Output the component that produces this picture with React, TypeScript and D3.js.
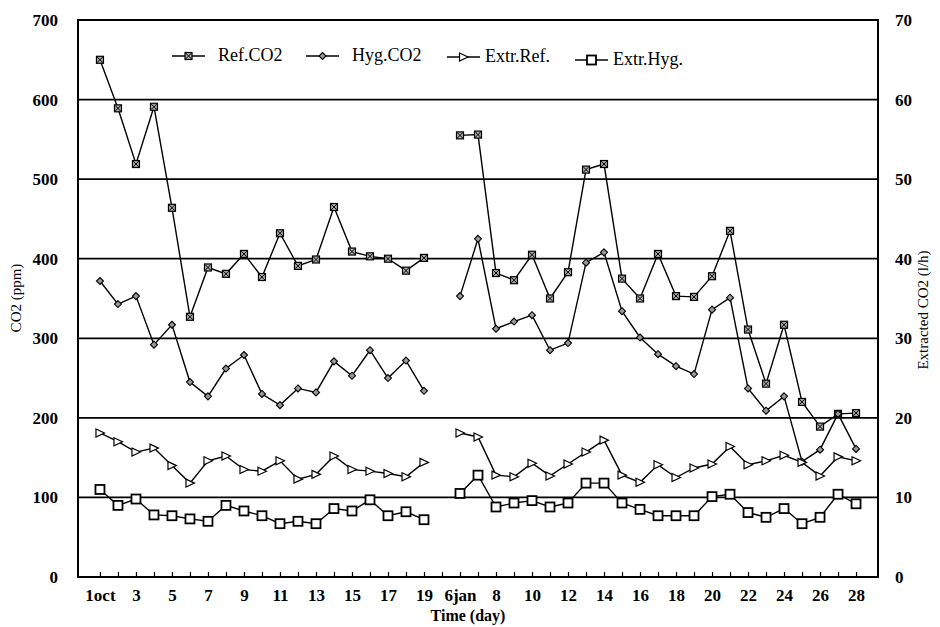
import React, { useRef, useEffect } from "react";
import * as d3 from "d3";

// categories: 1-19 Oct, one empty slot, 6-28 Jan
const categories = [
  "o1", "o2", "o3", "o4", "o5", "o6", "o7", "o8", "o9", "o10",
  "o11", "o12", "o13", "o14", "o15", "o16", "o17", "o18", "o19",
  "gap",
  "j6", "j7", "j8", "j9", "j10", "j11", "j12", "j13", "j14", "j15",
  "j16", "j17", "j18", "j19", "j20", "j21", "j22", "j23", "j24", "j25",
  "j26", "j27", "j28",
];
const tickLabels = [
  "1oct", "", "3", "", "5", "", "7", "", "9", "", "11", "", "13", "", "15", "", "17", "", "19",
  "",
  "6jan", "", "8", "", "10", "", "12", "", "14", "", "16", "", "18", "", "20", "", "22", "", "24", "", "26", "", "28",
];

// ppm (left axis)
const refCO2 = [
  650, 589, 519, 591, 464, 327, 389, 381, 406, 377, 432, 391, 399, 465, 409, 403, 400, 385, 401,
  null,
  555, 556, 382, 373, 405, 350, 383, 512, 519, 375, 350, 406, 353, 352, 378, 435, 311, 243, 317, 220, 189, 205, 206,
];
const hygCO2 = [
  372, 343, 353, 292, 317, 245, 227, 262, 279, 230, 216, 237, 232, 271, 253, 285, 250, 272, 234,
  null,
  353, 425, 312, 321, 329, 285, 294, 395, 408, 334, 301, 280, 265, 255, 336, 351, 237, 209, 227, 145, 160, 205, 161,
];
// l/h (right axis)
const extrRef = [
  18.1, 17.0, 15.7, 16.2, 14.0, 11.8, 14.6, 15.2, 13.5, 13.3, 14.6, 12.3, 12.9, 15.2, 13.5, 13.3, 13.0, 12.6, 14.4,
  null,
  18.1, 17.6, 12.8, 12.6, 14.3, 12.7, 14.2, 15.7, 17.2, 12.8, 11.9, 14.1, 12.5, 13.7, 14.2, 16.4, 14.1, 14.6, 15.3, 14.4, 12.7, 15.1, 14.6,
];
const extrHyg = [
  11.0, 9.0, 9.8, 7.8, 7.7, 7.3, 7.0, 9.0, 8.3, 7.7, 6.7, 7.0, 6.7, 8.6, 8.3, 9.7, 7.7, 8.2, 7.2,
  null,
  10.5, 12.8, 8.8, 9.3, 9.6, 8.8, 9.3, 11.8, 11.8, 9.3, 8.5, 7.7, 7.7, 7.7, 10.1, 10.4, 8.1, 7.5, 8.6, 6.7, 7.5, 10.4, 9.2,
];

const leftTicks = [0, 100, 200, 300, 400, 500, 600, 700];
const rightTicks = [0, 10, 20, 30, 40, 50, 60, 70];
const legendNames = ["Ref.CO2", "Hyg.CO2", "Extr.Ref.", "Extr.Hyg."];

const FONT = "'Liberation Serif', 'DejaVu Serif', serif";

const drawMarker = (g, kind, cx, cy) => {
  if (kind === 0) {
    g.append("rect")
      .attr("x", cx - 3.5).attr("y", cy - 3.5).attr("width", 7).attr("height", 7)
      .attr("fill", "#aaa").attr("stroke", "#000").attr("stroke-width", 1.2);
    g.append("path")
      .attr("d", `M${cx - 3},${cy - 3}L${cx + 3},${cy + 3}M${cx + 3},${cy - 3}L${cx - 3},${cy + 3}`)
      .attr("stroke", "#000").attr("stroke-width", 1);
  } else if (kind === 1) {
    g.append("path")
      .attr("d", `M${cx},${cy - 3.5}L${cx + 3.5},${cy}L${cx},${cy + 3.5}L${cx - 3.5},${cy}Z`)
      .attr("fill", "#999").attr("stroke", "#000").attr("stroke-width", 1.1);
  } else if (kind === 2) {
    g.append("path")
      .attr("d", `M${cx - 4},${cy - 4}L${cx + 4.5},${cy}L${cx - 4},${cy + 4}Z`)
      .attr("fill", "#fff").attr("stroke", "#000").attr("stroke-width", 1.2);
  } else {
    g.append("rect")
      .attr("x", cx - 4.5).attr("y", cy - 4.5).attr("width", 9).attr("height", 9)
      .attr("fill", "#fff").attr("stroke", "#000").attr("stroke-width", 1.8);
  }
};

const App = () => {
  const svgRef = useRef(null);

  useEffect(() => {
    const svg = d3.select(svgRef.current);
    svg.selectAll("*").remove();

    const left = 78, right = 878, top = 20, bottom = 577;

    const x = d3.scalePoint().domain(categories).range([left, right]).padding(1.22);
    const yLeft = d3.scaleLinear().domain([0, 700]).range([bottom, top]);
    const yRight = d3.scaleLinear().domain([0, 70]).range([bottom, top]);

    // grid lines
    svg.append("g")
      .selectAll("line")
      .data(leftTicks.filter((t) => t > 0 && t < 700))
      .enter()
      .append("line")
      .attr("x1", left).attr("x2", right)
      .attr("y1", (d) => yLeft(d)).attr("y2", (d) => yLeft(d))
      .attr("stroke", "#000").attr("stroke-width", 1.8);

    // frame
    svg.append("rect")
      .attr("x", left).attr("y", top)
      .attr("width", right - left).attr("height", bottom - top)
      .attr("fill", "none").attr("stroke", "#000").attr("stroke-width", 2);

    // x axis
    const xAxis = svg.append("g")
      .attr("transform", `translate(0,${bottom})`)
      .call(
        d3.axisBottom(x)
          .tickSizeInner(-5)
          .tickSizeOuter(0)
          .tickPadding(12)
          .tickFormat((d) => tickLabels[categories.indexOf(d)])
      );
    xAxis.select(".domain").remove();
    xAxis.selectAll("line").attr("stroke", "#000").attr("stroke-width", 1.2);
    xAxis.selectAll("text")
      .attr("font-family", FONT).attr("font-size", 17).attr("font-weight", "bold").attr("fill", "#000");

    // left axis
    const yAxisL = svg.append("g")
      .attr("transform", `translate(${left},0)`)
      .call(d3.axisLeft(yLeft).tickValues(leftTicks).tickSize(0).tickPadding(20));
    yAxisL.select(".domain").remove();
    yAxisL.selectAll("text")
      .attr("font-family", FONT).attr("font-size", 17).attr("font-weight", "bold").attr("fill", "#000");

    // right axis
    const yAxisR = svg.append("g")
      .attr("transform", `translate(${right},0)`)
      .call(d3.axisRight(yRight).tickValues(rightTicks).tickSize(0).tickPadding(17));
    yAxisR.select(".domain").remove();
    yAxisR.selectAll("text")
      .attr("font-family", FONT).attr("font-size", 17).attr("font-weight", "bold").attr("fill", "#000");

    // axis titles
    svg.append("text")
      .attr("x", 468).attr("y", 621)
      .attr("text-anchor", "middle")
      .attr("font-family", FONT).attr("font-size", 16).attr("font-weight", "bold")
      .text("Time (day)");
    svg.append("text")
      .attr("transform", `translate(21,298) rotate(-90)`)
      .attr("text-anchor", "middle")
      .attr("font-family", FONT).attr("font-size", 15)
      .text("CO2 (ppm)");
    svg.append("text")
      .attr("transform", `translate(928,310) rotate(-90)`)
      .attr("text-anchor", "middle")
      .attr("font-family", FONT).attr("font-size", 15)
      .text("Extracted CO2 (l/h)");

    // series
    const series = [
      { values: refCO2, scale: yLeft },
      { values: hygCO2, scale: yLeft },
      { values: extrRef, scale: yRight },
      { values: extrHyg, scale: yRight },
    ];

    series.forEach((s, k) => {
      const line = d3.line()
        .defined((d) => d != null)
        .x((_, i) => x(categories[i]))
        .y((d) => s.scale(d));
      svg.append("path")
        .datum(s.values)
        .attr("d", line)
        .attr("fill", "none")
        .attr("stroke", "#000")
        .attr("stroke-width", 1.4);
      const mg = svg.append("g");
      s.values.forEach((v, i) => {
        if (v == null) return;
        drawMarker(mg, k, x(categories[i]), s.scale(v));
      });
    });

    // legend
    const legendX = [172, 306, 447, 575];
    const legendTextX = [218, 352, 485, 613];
    const legendY = [56, 56, 57, 60];
    legendNames.forEach((name, k) => {
      const g = svg.append("g");
      const x0 = legendX[k], x1 = legendX[k] + 33, y0 = legendY[k];
      g.append("line")
        .attr("x1", x0).attr("x2", x1).attr("y1", y0).attr("y2", y0)
        .attr("stroke", "#000").attr("stroke-width", 1.4);
      drawMarker(g, k, (x0 + x1) / 2, y0);
      g.append("text")
        .attr("x", legendTextX[k]).attr("y", y0 + 5)
        .attr("font-family", FONT).attr("font-size", 18)
        .text(name);
    });
  }, []);

  return (
    <svg
      ref={svgRef}
      width={940}
      height={627}
      style={{ position: "absolute", left: 0, top: 0, background: "#fff" }}
    />
  );
};

export default App;
